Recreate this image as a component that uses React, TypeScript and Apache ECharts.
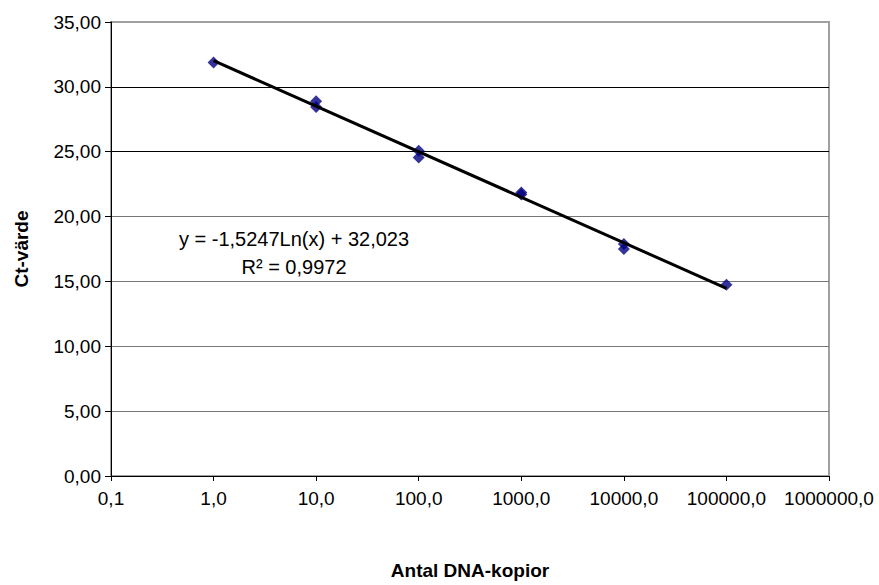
import React, { useEffect, useRef } from "react";
import * as echarts from "echarts";

// Measured points (Antal DNA-kopior, Ct-värde)
const copies = [1, 10, 10, 100, 100, 1000, 1000, 10000, 10000, 100000];
const ctValues = [31.88, 28.9, 28.45, 25.08, 24.55, 21.85, 21.7, 17.88, 17.5, 14.75];

// Logarithmic trend line end points (as drawn)
const trendX = [1, 100000];
const trendY = [32.02, 14.47];

const equationLines = ["y = -1,5247Ln(x) + 32,023", "R² = 0,9972"];

const xTitle = "Antal DNA-kopior";
const yTitle = "Ct-värde";

const FONT = "'Liberation Sans', Arial, sans-serif";

export default function App() {
  const ref = useRef<HTMLDivElement>(null);
  useEffect(() => {
    if (!ref.current) return;
    const chart = echarts.init(ref.current, undefined, { renderer: "svg" });
    chart.setOption({
      animation: false,
      backgroundColor: "#ffffff",
      textStyle: { fontFamily: FONT },
      grid: {
        left: 111,
        right: 50,
        top: 22,
        bottom: 107,
        show: true,
        borderColor: "#a0a0a0",
        borderWidth: 2,
        backgroundColor: "#ffffff",
      },
      xAxis: {
        type: "log",
        logBase: 10,
        min: 0.1,
        max: 1000000,
        name: xTitle,
        nameLocation: "middle",
        nameGap: 85,
        nameTextStyle: { fontFamily: FONT, fontSize: 19, fontWeight: "bold", color: "#000" },
        axisLine: { show: true, onZero: false, lineStyle: { color: "#000", width: 1 } },
        axisTick: { show: true, length: 5, lineStyle: { color: "#000" } },
        minorTick: { show: false },
        splitLine: { show: false },
        axisLabel: {
          margin: 13,
          fontFamily: FONT,
          fontSize: 19,
          color: "#000",
          formatter: (v: number) => v.toFixed(1).replace(".", ","),
        },
      },
      yAxis: {
        type: "value",
        min: 0,
        max: 35,
        interval: 5,
        name: yTitle,
        nameLocation: "middle",
        nameGap: 80,
        nameTextStyle: { fontFamily: FONT, fontSize: 19, fontWeight: "bold", color: "#000" },
        axisLine: { show: true, lineStyle: { color: "#000", width: 1 } },
        axisTick: { show: true, length: 6, lineStyle: { color: "#000" } },
        splitLine: {
          show: true,
          lineStyle: {
            color: ["#000", "#777", "#777", "#777", "#777", "#000", "#000", "#a0a0a0"],
            width: 1,
          },
        },
        axisLabel: {
          margin: 10,
          fontFamily: FONT,
          fontSize: 19,
          color: "#000",
          formatter: (v: number) => v.toFixed(2).replace(".", ","),
        },
      },
      series: [
        {
          type: "scatter",
          data: copies.map((x, i) => [x, ctValues[i]]),
          symbol: "diamond",
          symbolSize: 12,
          itemStyle: { color: "#000080" },
          z: 2,
        },
        {
          type: "line",
          data: trendX.map((x, i) => [x, trendY[i]]),
          showSymbol: false,
          symbol: "none",
          lineStyle: { color: "#000", width: 3 },
          z: 3,
        },
      ],
      graphic: [
        {
          type: "text",
          x: 294,
          y: 239,
          style: {
            text: equationLines[0],
            fontFamily: FONT,
            fontSize: 20,
            fill: "#000",
            align: "center",
            verticalAlign: "middle",
          },
        },
        {
          type: "text",
          x: 294,
          y: 267,
          style: {
            text: equationLines[1],
            fontFamily: FONT,
            fontSize: 20,
            fill: "#000",
            align: "center",
            verticalAlign: "middle",
          },
        },
      ],
    });
    return () => chart.dispose();
  }, []);
  return <div ref={ref} style={{ width: 879, height: 585, position: "absolute", left: 0, top: 0 }} />;
}
